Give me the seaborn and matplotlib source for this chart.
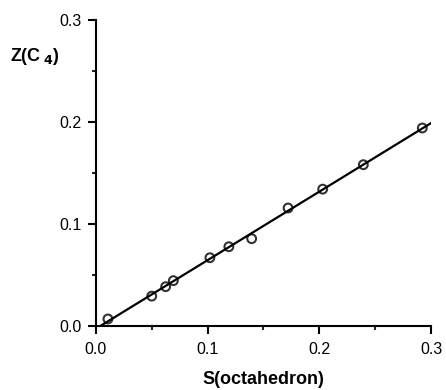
import numpy as np
import pandas as pd
import matplotlib
matplotlib.use("Agg")
import matplotlib.pyplot as plt
from matplotlib.ticker import MultipleLocator
import seaborn as sns

# values
s_octahedron = [0.0107, 0.0499, 0.0624, 0.0693, 0.102, 0.119, 0.1394, 0.172, 0.203, 0.2394, 0.2922]
z_c4 = [0.0066, 0.029, 0.0383, 0.0442, 0.0667, 0.0775, 0.0854, 0.1155, 0.134, 0.158, 0.194]
tick_values = [0.0, 0.1, 0.2, 0.3]
tick_labels = ["0.0", "0.1", "0.2", "0.3"]

sns.set_style("ticks")
plt.rcParams['font.family'] = ['Liberation Sans', 'DejaVu Sans']
plt.rcParams['text.color'] = 'black'
plt.rcParams['axes.labelcolor'] = 'black'

df = pd.DataFrame({"S": s_octahedron, "Z": z_c4})

fig = plt.figure(figsize=(4.46, 3.9), dpi=100)
ax = fig.add_axes([0.2152, 0.1649, 0.7512, 0.7838])

sns.regplot(data=df, x="S", y="Z", ax=ax, ci=None, truncate=False,
            scatter_kws=dict(marker="o", s=40, facecolors="none", edgecolors="black", linewidths=1.5),
            line_kws=dict(color="black", lw=1.6))

ax.set_xlim(0, 0.3)
ax.set_ylim(0, 0.3)
ax.set_xticks(tick_values)
ax.set_xticklabels(tick_labels)
ax.set_yticks(tick_values)
ax.set_yticklabels(tick_labels)
ax.xaxis.set_minor_locator(MultipleLocator(0.05))
ax.yaxis.set_minor_locator(MultipleLocator(0.05))
ax.tick_params(which="major", length=6, width=1.5, labelsize=11.5, direction="out", colors="black")
ax.tick_params(axis="x", which="major", pad=6)
ax.tick_params(axis="y", which="major", pad=4.5)
ax.tick_params(which="minor", length=3, width=1.5, direction="out")
for side in ["top", "right"]:
    ax.spines[side].set_visible(False)
for side in ["left", "bottom"]:
    ax.spines[side].set_linewidth(1.5)
    ax.spines[side].set_color("black")

ax.set_xlabel("S(octahedron)", fontsize=13, fontweight="bold", labelpad=10)
ax.set_ylabel("")
fig.text(0.078, 0.854, r"Z(C$\,_{\mathbf{4}}$)", fontsize=13, fontweight="bold", ha="center", va="center")

fig.savefig("out.png", dpi=100)
